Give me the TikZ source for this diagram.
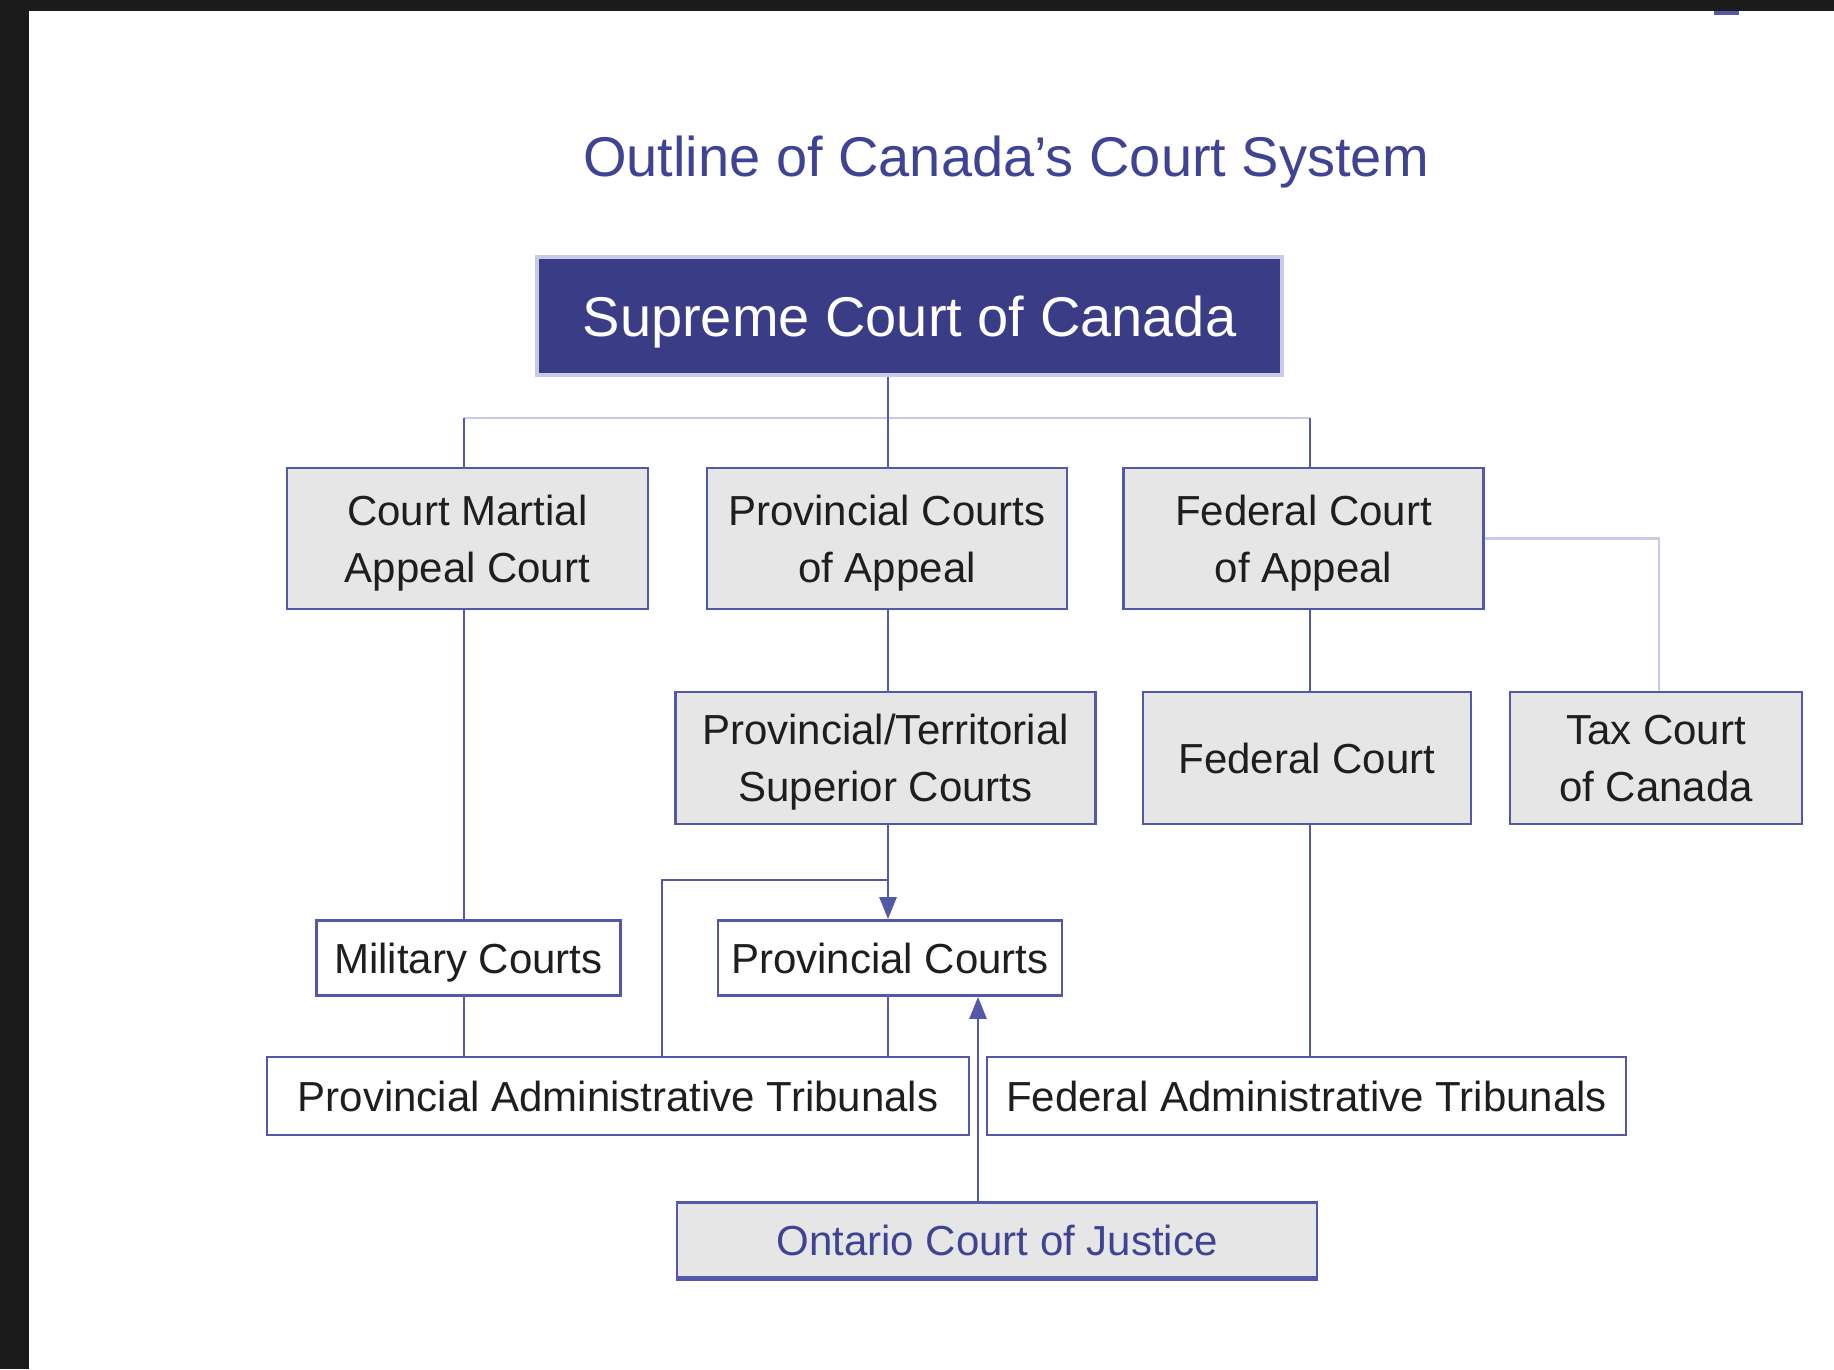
\documentclass[tikz,border=0pt]{standalone}
\usepackage{fontspec}
\setmainfont{Liberation Sans}
\usetikzlibrary{arrows.meta}
\definecolor{framec}{HTML}{1B1B1B}
\definecolor{navy}{HTML}{3A3D86}
\definecolor{bord}{HTML}{5458A8}
\definecolor{lightln}{HTML}{C9CBE6}
\definecolor{boxgray}{HTML}{E6E6E6}
\definecolor{titleblue}{HTML}{3F4393}
\definecolor{txt}{HTML}{1E1E1E}
\begin{document}
\begin{tikzpicture}[x=0.5pt,y=-0.5pt,
  box/.style={draw=bord, line width=1.4pt, fill=boxgray, text=txt, align=center, inner sep=0pt,
              text depth=0pt, font=\fontsize{21}{28.5}\selectfont},
  wbox/.style={box, fill=white},
  conn/.style={draw=bord, line width=1.4pt},
  lconn/.style={draw=lightln, line width=1.3pt},
  arr/.style={conn, -{Triangle[width=8.5pt,length=11pt]}}]
\fill[white] (0,0) rectangle (1834,1369);
\fill[framec] (0,0) rectangle (1834,11);
\fill[framec] (0,0) rectangle (29,1369);
\fill[bord] (1714,11) rectangle (1739,15);
\useasboundingbox (0,0) rectangle (1834,1369);

\node[text=titleblue, text depth=0pt, font=\fontsize{28}{34}\selectfont] (title) at (1006,156) {Outline of Canada’s Court System};

\node[box, fill=navy, draw=lightln, line width=1.6pt, text=white, minimum width=372.5pt, minimum height=59pt,
      font=\fontsize{28}{34}\selectfont] (sup) at (909.5,316) {Supreme Court of Canada};

\node[box, minimum width=180.5pt, minimum height=70.5pt] (cmac) at (467.5,538.5) {Court Martial\\Appeal Court};
\node[box, minimum width=180pt, minimum height=70.5pt] (pca) at (887,538.5) {Provincial Courts\\of Appeal};
\node[box, minimum width=180pt, minimum height=70.5pt] (fca) at (1303.5,538.5) {Federal Court\\of Appeal};

\node[box, minimum width=210pt, minimum height=66pt] (ptsc) at (885.5,758) {Provincial/Territorial\\Superior Courts};
\node[box, minimum width=164pt, minimum height=66pt] (fc) at (1307,758) {Federal Court};
\node[box, minimum width=146pt, minimum height=66pt] (tax) at (1656,758) {Tax Court\\of Canada};

\node[wbox, minimum width=152pt, minimum height=37.5pt] (mil) at (468.5,958) {Military Courts};
\node[wbox, minimum width=172pt, minimum height=37.5pt] (pc) at (890,958) {Provincial Courts};

\node[wbox, minimum width=351pt, minimum height=39pt] (pat) at (618,1096) {Provincial Administrative Tribunals};
\node[wbox, minimum width=319.5pt, minimum height=39pt] (fat) at (1306.5,1096) {Federal Administrative Tribunals};

\node[box, text=titleblue, minimum width=320pt, minimum height=37.5pt] (oc) at (997,1240) {Ontario Court of Justice};
\draw[bord, line width=2.4pt] (oc.south west) -- (oc.south east);

% connectors
\coordinate (busl) at (464,418);
\coordinate (busm) at (888,418);
\coordinate (busr) at (1310,418);
\draw[lconn] (busl) -- (busr);
\draw[conn] (sup.south -| busm) -- (busm |- pca.north);
\draw[conn] (busl) -- (busl |- cmac.north);
\draw[conn] (busr) -- (busr |- fca.north);

\draw[conn] (busl |- cmac.south) -- (busl |- mil.north);
\draw[conn] (busl |- mil.south) -- (busl |- pat.north);

\draw[conn] (busm |- pca.south) -- (busm |- ptsc.north);
\draw[arr] (busm |- ptsc.south) -- (busm |- pc.north);
\coordinate (br) at (888,880);
\coordinate (brl) at (662,880);
\draw[conn] (br) -- (brl) -- (brl |- pat.north);
\draw[conn] (busm |- pc.south) -- (busm |- pat.north);

\draw[conn] (busr |- fca.south) -- (busr |- fc.north);
\draw[conn] (busr |- fc.south) -- (busr |- fat.north);
\coordinate (taxx) at (1659,0);
\draw[lconn] (fca.east) -- (fca.east -| taxx) -- (taxx |- tax.north);

\coordinate (ocx) at (978,0);
\draw[arr] (oc.north -| ocx) -- (pc.south -| ocx);
\end{tikzpicture}
\end{document}
